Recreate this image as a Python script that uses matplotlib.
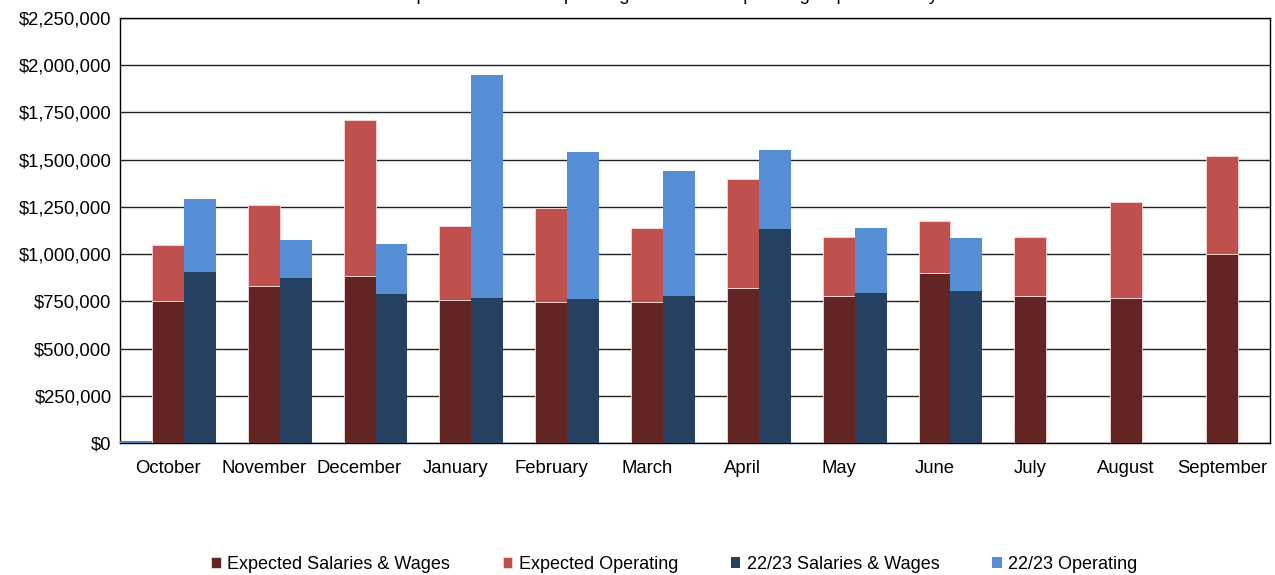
import matplotlib.pyplot as plt
import numpy as np
from matplotlib.ticker import FuncFormatter

plt.rcParams['font.family'] = ['Liberation Sans', 'DejaVu Sans']

months = ["October", "November", "December", "January", "February", "March",
          "April", "May", "June", "July", "August", "September"]

exp_salaries = [750000, 831000, 884000, 757000, 746000, 746000,
                820000, 778000, 900000, 778000, 768000, 1000000]
exp_total = [1048000, 1262000, 1712000, 1150000, 1246000, 1136000,
             1400000, 1092000, 1177000, 1092000, 1277000, 1520000]

# 22/23 actuals (no data July - September)
act_salaries = [905000, 873000, 789000, 768000, 762000, 778000,
                1133000, 794000, 805000, 0, 0, 0]
act_total = [1293000, 1075000, 1054000, 1950000, 1543000, 1442000,
             1553000, 1140000, 1086000, 0, 0, 0]

# odd little leftover series in the first slot of October
stray = [9000, 0, 0, 0, 0, 0, 0, 0, 0, 0, 0, 0]

exp_operating = [t - s for t, s in zip(exp_total, exp_salaries)]
act_operating = [t - s for t, s in zip(act_total, act_salaries)]

c_exp_sal = "#632523"
c_exp_op = "#C0504D"
c_act_sal = "#254061"
c_act_op = "#558ED5"

fig = plt.figure(figsize=(12.75, 5.75), dpi=100)
ax = fig.add_axes([0.0941, 0.2296, 0.9019, 0.7391])

x = np.arange(len(months))
w = 1 / 3
edge = dict(edgecolor="#f2dcdb", linewidth=0.6)

ax.bar(x - w, stray, w, color="#4F81BD", zorder=3)
ax.bar(x, exp_salaries, w, color=c_exp_sal, label="Expected Salaries & Wages", zorder=3, **edge)
ax.bar(x, exp_operating, w, bottom=exp_salaries, color=c_exp_op, label="Expected Operating", zorder=3, **edge)
ax.bar(x + w, act_salaries, w, color=c_act_sal, label="22/23 Salaries & Wages", zorder=3)
ax.bar(x + w, act_operating, w, bottom=act_salaries, color=c_act_op, label="22/23 Operating", zorder=3)

ax.set_xlim(-0.5, len(months) - 0.5)
ax.set_ylim(0, 2250000)
ax.set_yticks(np.arange(0, 2250001, 250000))
ax.yaxis.set_major_formatter(FuncFormatter(lambda v, p: "${:,.0f}".format(v)))
ax.set_xticks(x)
ax.set_xticklabels(months)
ax.tick_params(axis="both", length=0, labelsize=13.3, colors="black")
ax.tick_params(axis="x", pad=12)
ax.tick_params(axis="y", pad=6)
ax.grid(axis="y", color="#222222", linewidth=1.0, zorder=0)
for s in ax.spines.values():
    s.set_color("black")
    s.set_linewidth(1.0)

# title sits above the canvas in the original, only its descenders show
fig.text(0.545, 1.0, "Expected vs 22/23 Spending: Salaries & Operating Expenditure by Month",
         ha="center", va="baseline", fontsize=13.3)

ax.legend(loc="center", bbox_to_anchor=(0.482, -0.285), ncol=4, frameon=False,
          fontsize=13, handlelength=0.55, handleheight=0.55, handletextpad=0.35,
          columnspacing=2.9)

fig.savefig("out.png", dpi=100)
